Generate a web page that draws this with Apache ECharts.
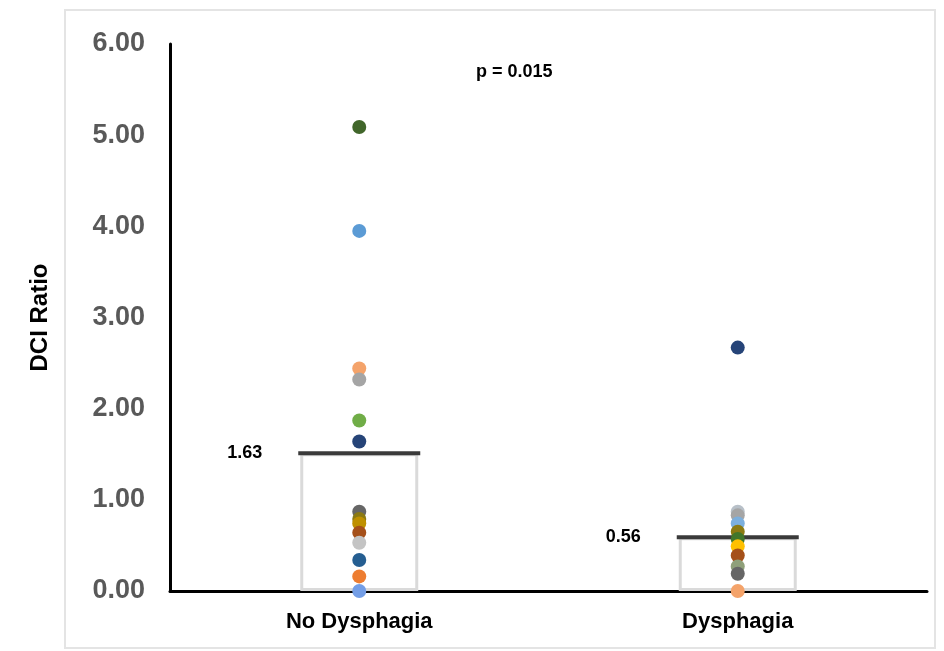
<!DOCTYPE html>
<html>
<head>
<meta charset="utf-8">
<script src="https://cdn.jsdelivr.net/npm/echarts@6/dist/echarts.min.js"></script>
<style>html,body{margin:0;padding:0;background:#fff;}#c{width:944px;height:651px;}</style>
</head>
<body>
<div id="c"></div>
<script>
var categories = ['No Dysphagia', 'Dysphagia'];
var yTicks = [0, 1, 2, 3, 4, 5, 6];
var barValues = [1.51, 0.59];
var barLabels = ['1.63', '0.56'];
var pValueText = 'p = 0.015';
var noDysValues = [5.09, 3.95, 2.44, 2.32, 1.87, 1.64, 0.87, 0.79, 0.74, 0.64, 0.53, 0.34, 0.16, 0.00];
var noDysColors = ['#41662a', '#5b9bd5', '#f4a36a', '#a5a5a5', '#70ad47', '#264478', '#666666', '#8c7a12', '#bf9000', '#a5501a', '#c4c4c4', '#255e91', '#ed7d31', '#749ee6'];
var dysValues = [2.67, 0.87, 0.83, 0.74, 0.65, 0.57, 0.49, 0.39, 0.27, 0.19, 0.00];
var dysColors = ['#264478', '#b8c0c8', '#a5a5a5', '#7cafdd', '#8c7a12', '#41762a', '#ffc000', '#a5501a', '#8fa07a', '#666666', '#f4a36a'];

var pts = [];
noDysValues.forEach(function (v, i) { pts.push({ value: [categories[0], v], itemStyle: { color: noDysColors[i] } }); });
dysValues.forEach(function (v, i) { pts.push({ value: [categories[1], v], itemStyle: { color: dysColors[i] } }); });

var chart = echarts.init(document.getElementById('c'), null, { renderer: 'canvas' });
var font = 'Liberation Sans, Arial, sans-serif';
chart.setOption({
  animation: false,
  backgroundColor: '#ffffff',
  grid: { left: 170, right: 17, top: 44, bottom: 60, containLabel: false },
  graphic: [
    { type: 'rect', shape: { x: 65, y: 10, width: 870, height: 638 }, style: { fill: 'none', stroke: '#e4e4e4', lineWidth: 2 }, z: -10 },
    { type: 'text', left: 476, top: 63, style: { text: pValueText, font: 'bold 18px ' + font, fill: '#000000' } }
  ],
  xAxis: {
    type: 'category',
    data: categories,
    boundaryGap: true,
    axisLine: { show: true, lineStyle: { color: '#000000', width: 3 } },
    axisTick: { show: false },
    axisLabel: { margin: 20, fontSize: 22, fontWeight: 'bold', color: '#000000', fontFamily: font },
    splitLine: { show: false }
  },
  yAxis: {
    type: 'value',
    min: yTicks[0],
    max: yTicks[yTicks.length - 1],
    interval: 1,
    name: 'DCI Ratio',
    nameLocation: 'middle',
    nameGap: 118,
    nameRotate: 90,
    nameTextStyle: { fontSize: 24, fontWeight: 'bold', color: '#000000', fontFamily: font },
    axisLine: { show: true, lineStyle: { color: '#000000', width: 3 } },
    axisTick: { show: false },
    splitLine: { show: false },
    axisLabel: { margin: 25, fontSize: 27, fontWeight: 'bold', color: '#595959', fontFamily: font, formatter: function (v) { return v.toFixed(2); } }
  },
  series: [
    {
      type: 'bar',
      data: barValues,
      barWidth: 118,
      itemStyle: { color: '#ffffff', borderColor: '#dadada', borderWidth: 3 },
      z: 1
    },
    {
      type: 'scatter',
      data: barValues.map(function (v, i) { return { value: [categories[i], v], label: { formatter: barLabels[i] } }; }),
      symbol: 'rect',
      symbolSize: [122, 4],
      itemStyle: { color: '#3a3a3a', opacity: 1 },
      label: { show: true, position: 'left', distance: 36, fontSize: 18, fontWeight: 'bold', color: '#000000', fontFamily: font },
      z: 2
    },
    {
      type: 'scatter',
      data: pts,
      symbol: 'circle',
      symbolSize: 14,
      itemStyle: { opacity: 1 },
      z: 3
    }
  ]
});
</script>
</body>
</html>
